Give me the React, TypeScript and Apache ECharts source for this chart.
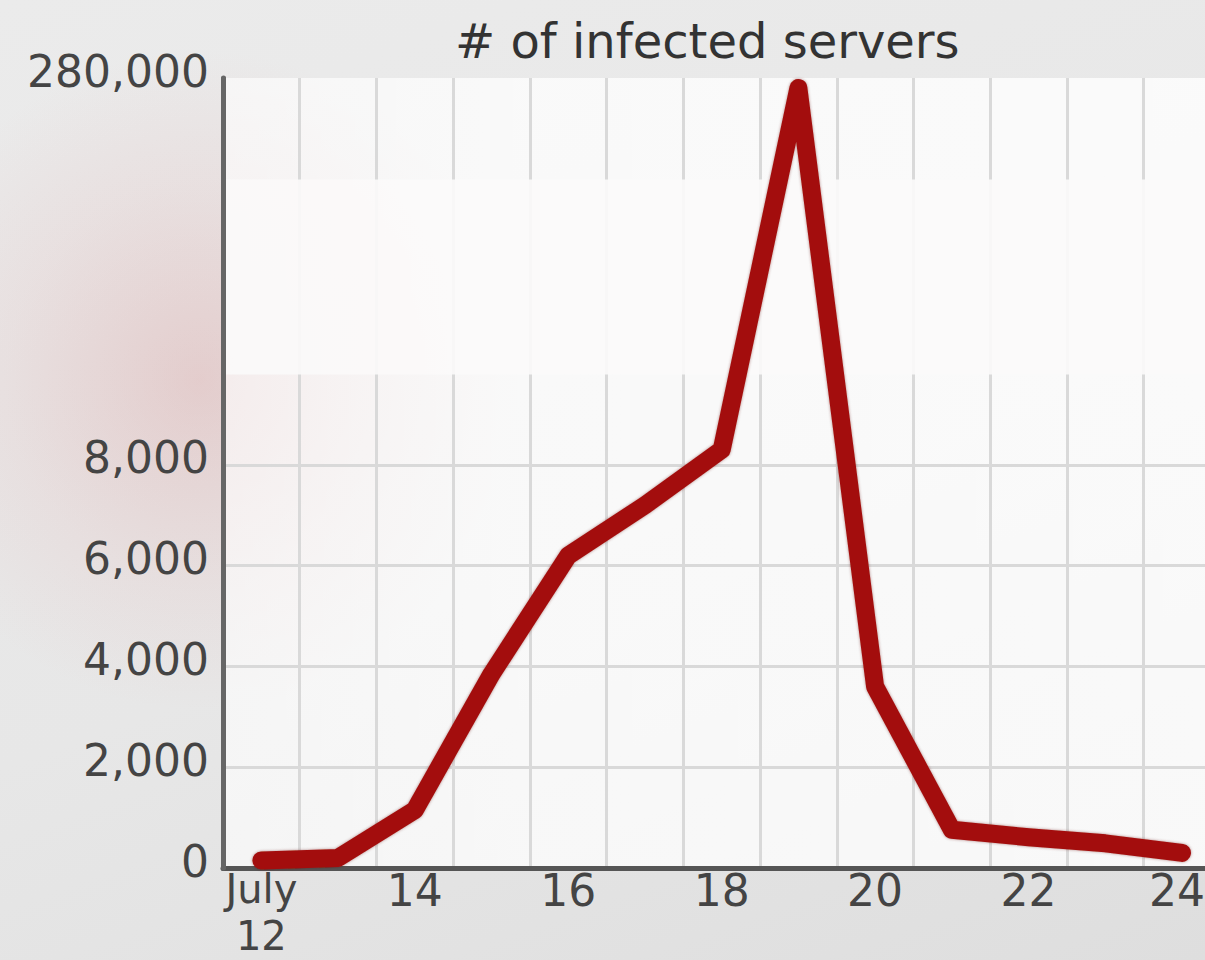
import React, { useEffect, useRef } from "react";
import * as echarts from "echarts";

const days = [12, 13, 14, 15, 16, 17, 18, 19, 20, 21, 22, 23, 24];
const infectedServers = [150, 200, 1150, 3850, 6200, 7200, 8300, 279800, 3600, 760, 610, 490, 300];
const xLabelDays = [12, 14, 16, 18, 20, 22, 24];
const xGridDays = [12.5, 13.5, 14.5, 15.5, 16.5, 17.5, 18.5, 19.5, 20.5, 21.5, 22.5, 23.5];
const yLabelValues = [0, 2000, 4000, 6000, 8000, 280000];
const yGridValues = [2000, 4000, 6000, 8000];
const chartTitle = "# of infected servers";
const firstMonth = "July";

const FONT = "DejaVu Sans";

export default function App() {
  const ref = useRef<HTMLDivElement>(null);
  useEffect(() => {
    document.body.style.margin = "0";
    if (!ref.current) return;
    const chart = echarts.init(ref.current, null, { renderer: "svg" });
    const lastDay = days[days.length - 1];
    chart.setOption({
      animation: false,
      title: {
        text: chartTitle,
        left: 450,
        top: 12,
        textStyle: { fontFamily: FONT, fontSize: 48, fontWeight: "normal", color: "#333" },
      },
      grid: {
        left: 223,
        right: 0,
        top: 78,
        bottom: 92,
        show: true,
        backgroundColor: new echarts.graphic.LinearGradient(0, 0, 1, 0, [
          { offset: 0, color: "rgba(255,255,255,0.62)" },
          { offset: 0.3, color: "rgba(255,255,255,0.74)" },
          { offset: 1, color: "rgba(255,255,255,0.8)" },
        ]),
        borderWidth: 0,
        outerBoundsMode: "none",
        containLabel: false,
      },
      xAxis: {
        type: "value",
        min: 11.5,
        max: 24.3,
        axisLine: { show: true, onZero: false, lineStyle: { color: "#555", width: 5 } },
        axisTick: { show: false, customValues: xGridDays },
        splitLine: { show: true, lineStyle: { color: "#d9d9d9", width: 3 } },
        axisLabel: {
          customValues: xLabelDays,
          formatter: (v: number) =>
            v === days[0]
              ? "{m|" + firstMonth + "}\n{m|" + v + "}"
              : v === lastDay
              ? "{e|" + v + "}"
              : "{n|" + v + "}",
          rich: {
            n: { fontFamily: FONT, fontSize: 44, lineHeight: 45, color: "#444", padding: [5, 0, 0, 0] },
            e: { fontFamily: FONT, fontSize: 44, lineHeight: 45, color: "#444", padding: [5, 10, 0, 0] },
            m: { fontFamily: FONT, fontSize: 40, lineHeight: 47, color: "#444" },
          },
          margin: -3,
          showMaxLabel: true,
        },
      },
      yAxis: [
        {
          type: "value",
          min: 0,
          max: 280000,
          breaks: [{ start: 9800, end: 278000, gap: 3880 }],
          breakArea: {
            show: true,
            itemStyle: { color: "#fbfafa", opacity: 0.9, borderWidth: 0, borderColor: "transparent" },
            zigzagAmplitude: 0,
            expandOnClick: false,
          },
          axisLine: { show: true, lineStyle: { color: "#666", width: 5 } },
          axisTick: { show: false, customValues: yGridValues },
          splitLine: { show: true, lineStyle: { color: "#d9d9d9", width: 3 } },
          axisLabel: {
            customValues: yLabelValues,
            formatter: (v: number) => "{v|" + v.toLocaleString("en-US") + "}",
            rich: {
              v: { fontFamily: FONT, fontSize: 44, color: "#444", padding: [0, 0, 14, 0] },
            },
            margin: 14,
          },
        },
        {
          type: "value",
          position: "left",
          min: 0,
          max: 1,
          z: 150,
          axisLine: { show: true, lineStyle: { color: "#666", width: 5 } },
          axisTick: { show: false },
          axisLabel: { show: false },
          splitLine: { show: false },
        },
      ],
      series: [
        {
          type: "line",
          yAxisIndex: 0,
          data: days.map((d, i) => [d, infectedServers[i]]),
          symbol: "none",
          lineStyle: {
            color: "#a3100b",
            width: 18,
            cap: "round",
            join: "round",
            shadowColor: "rgba(90,0,0,0.45)",
            shadowBlur: 3,
          },
          z: 200,
        },
      ],
    });
    return () => chart.dispose();
  }, []);
  return (
    <div
      ref={ref}
      style={{
        width: 1205,
        height: 960,
        background:
          "radial-gradient(ellipse 320px 330px at 200px 380px, rgba(215,140,140,0.3), rgba(225,170,170,0.15) 60%, rgba(230,225,225,0) 100%)," +
          "linear-gradient(160deg, #ebebeb 0%, #e7e7e7 55%, #dedede 100%)",
      }}
    />
  );
}
